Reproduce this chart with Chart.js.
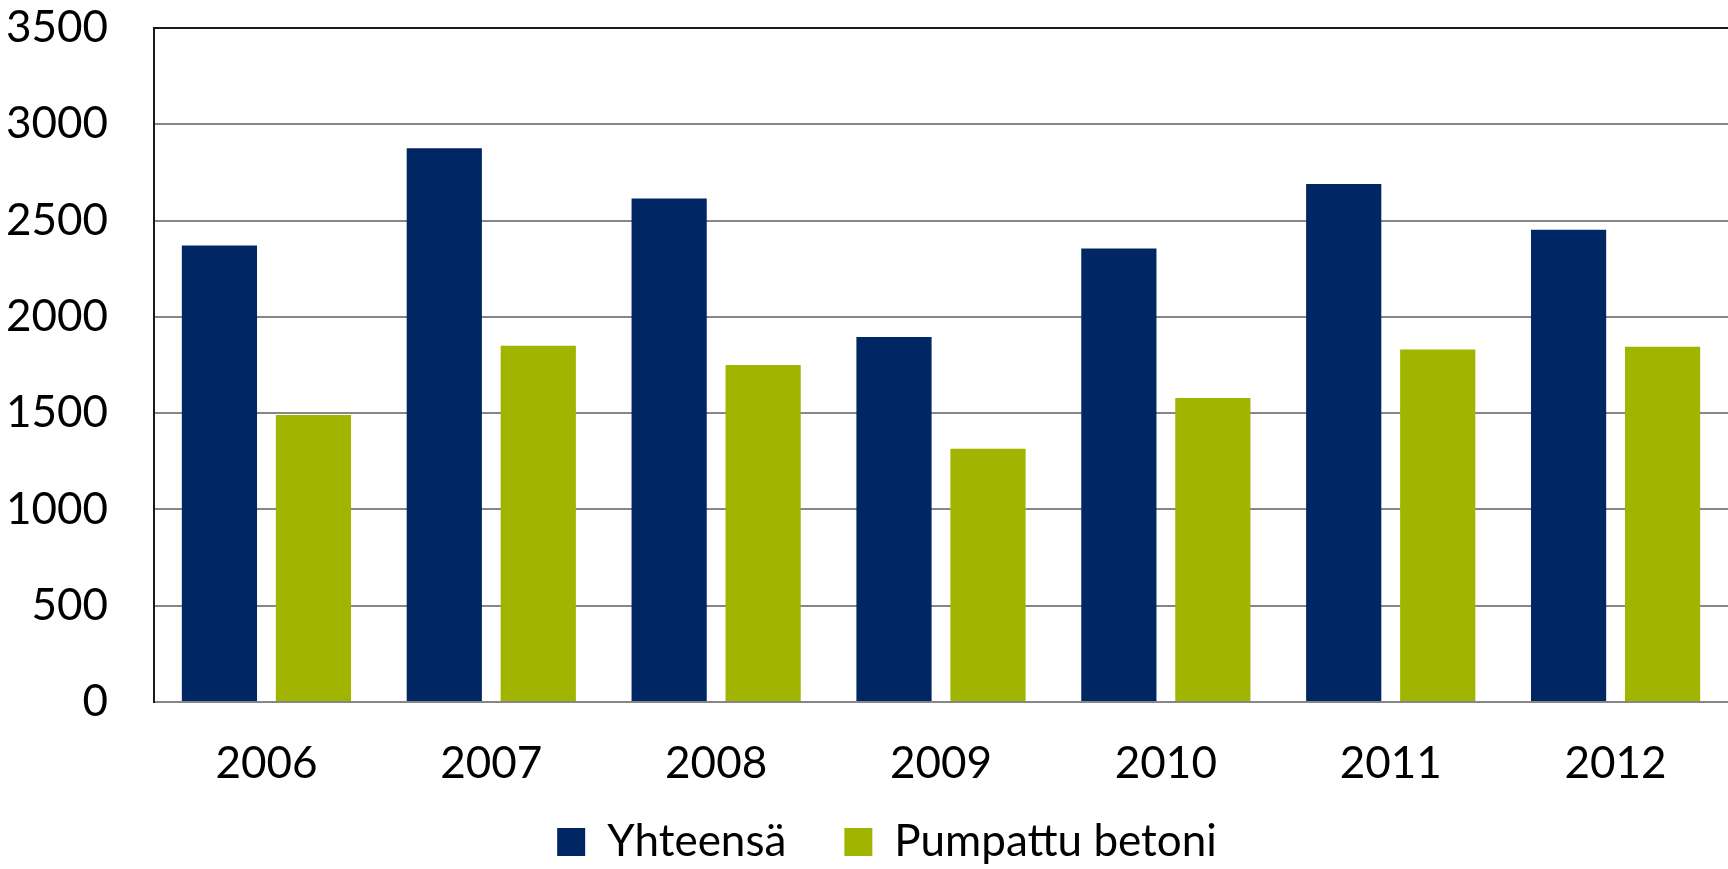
<!DOCTYPE html>
<html>
<head>
<meta charset="utf-8">
<script src="https://cdn.jsdelivr.net/npm/chart.js@4"></script>
<style>
html,body{margin:0;padding:0;background:#fff;}
#wrap{width:1728px;height:869px;}
</style>
</head>
<body>
<div id="wrap"><canvas id="grafico"></canvas></div>
<script>
// vuodet ja sarjat
const vuodet = ['2006','2007','2008','2009','2010','2011','2012'];
const yhteensa = [2370, 2875, 2615, 1895, 2355, 2690, 2452];
const pumpattu = [1490, 1850, 1750, 1315, 1578, 1830, 1845];
const yTicks = [0, 500, 1000, 1500, 2000, 2500, 3000, 3500];

const fontti = {family:'Lato, "Open Sans", sans-serif', size:44};

// x-akselin tekstit saavat mennä legendan päälle, legenda hieman oikealle
const siirrot = {
id:'siirrot',
afterLayout(chart){
chart.scales.x.bottom = chart.height;
chart.legend.left = 46;
}
};

new Chart(document.getElementById('grafico'),{
type:'bar',
data:{
labels:vuodet,
datasets:[
{label:'Yhteensä', data:yhteensa, backgroundColor:'#002664'},
{label:'Pumpattu betoni', data:pumpattu, backgroundColor:'#A1B400'}
]
},
plugins:[siirrot],
options:{
responsive:true,
maintainAspectRatio:false,
animation:false,
layout:{padding:0},
categoryPercentage:0.836,
barPercentage:0.8,
plugins:{
legend:{
position:'bottom',
maxHeight:107,
labels:{
color:'#000',
font:fontti,
boxWidth:28,
boxHeight:28,
padding:58
}
},
tooltip:{enabled:false}
},
scales:{
x:{
grid:{display:false, drawTicks:false},
border:{color:'#868686', width:2},
ticks:{color:'#000', font:fontti, padding:35},
afterFit:ax=>{ ax.height = 60; ax.paddingLeft = 0; ax.paddingRight = 0; }
},
y:{
min:0,
max:3500,
afterBuildTicks:ax=>{ ax.ticks = yTicks.map(v=>({value:v})); },
grid:{
color:c=>c.tick && c.tick.value===3500 ? '#1a1a1a' : '#868686',
lineWidth:2,
drawTicks:false
},
border:{color:'#1a1a1a', width:2},
ticks:{color:'#000', font:fontti, padding:46, callback:v=>String(v)},
afterFit:ax=>{ ax.width = 154; ax.paddingTop = 28; ax.paddingBottom = 0; }
}
}
}
});
</script>
</body>
</html>
